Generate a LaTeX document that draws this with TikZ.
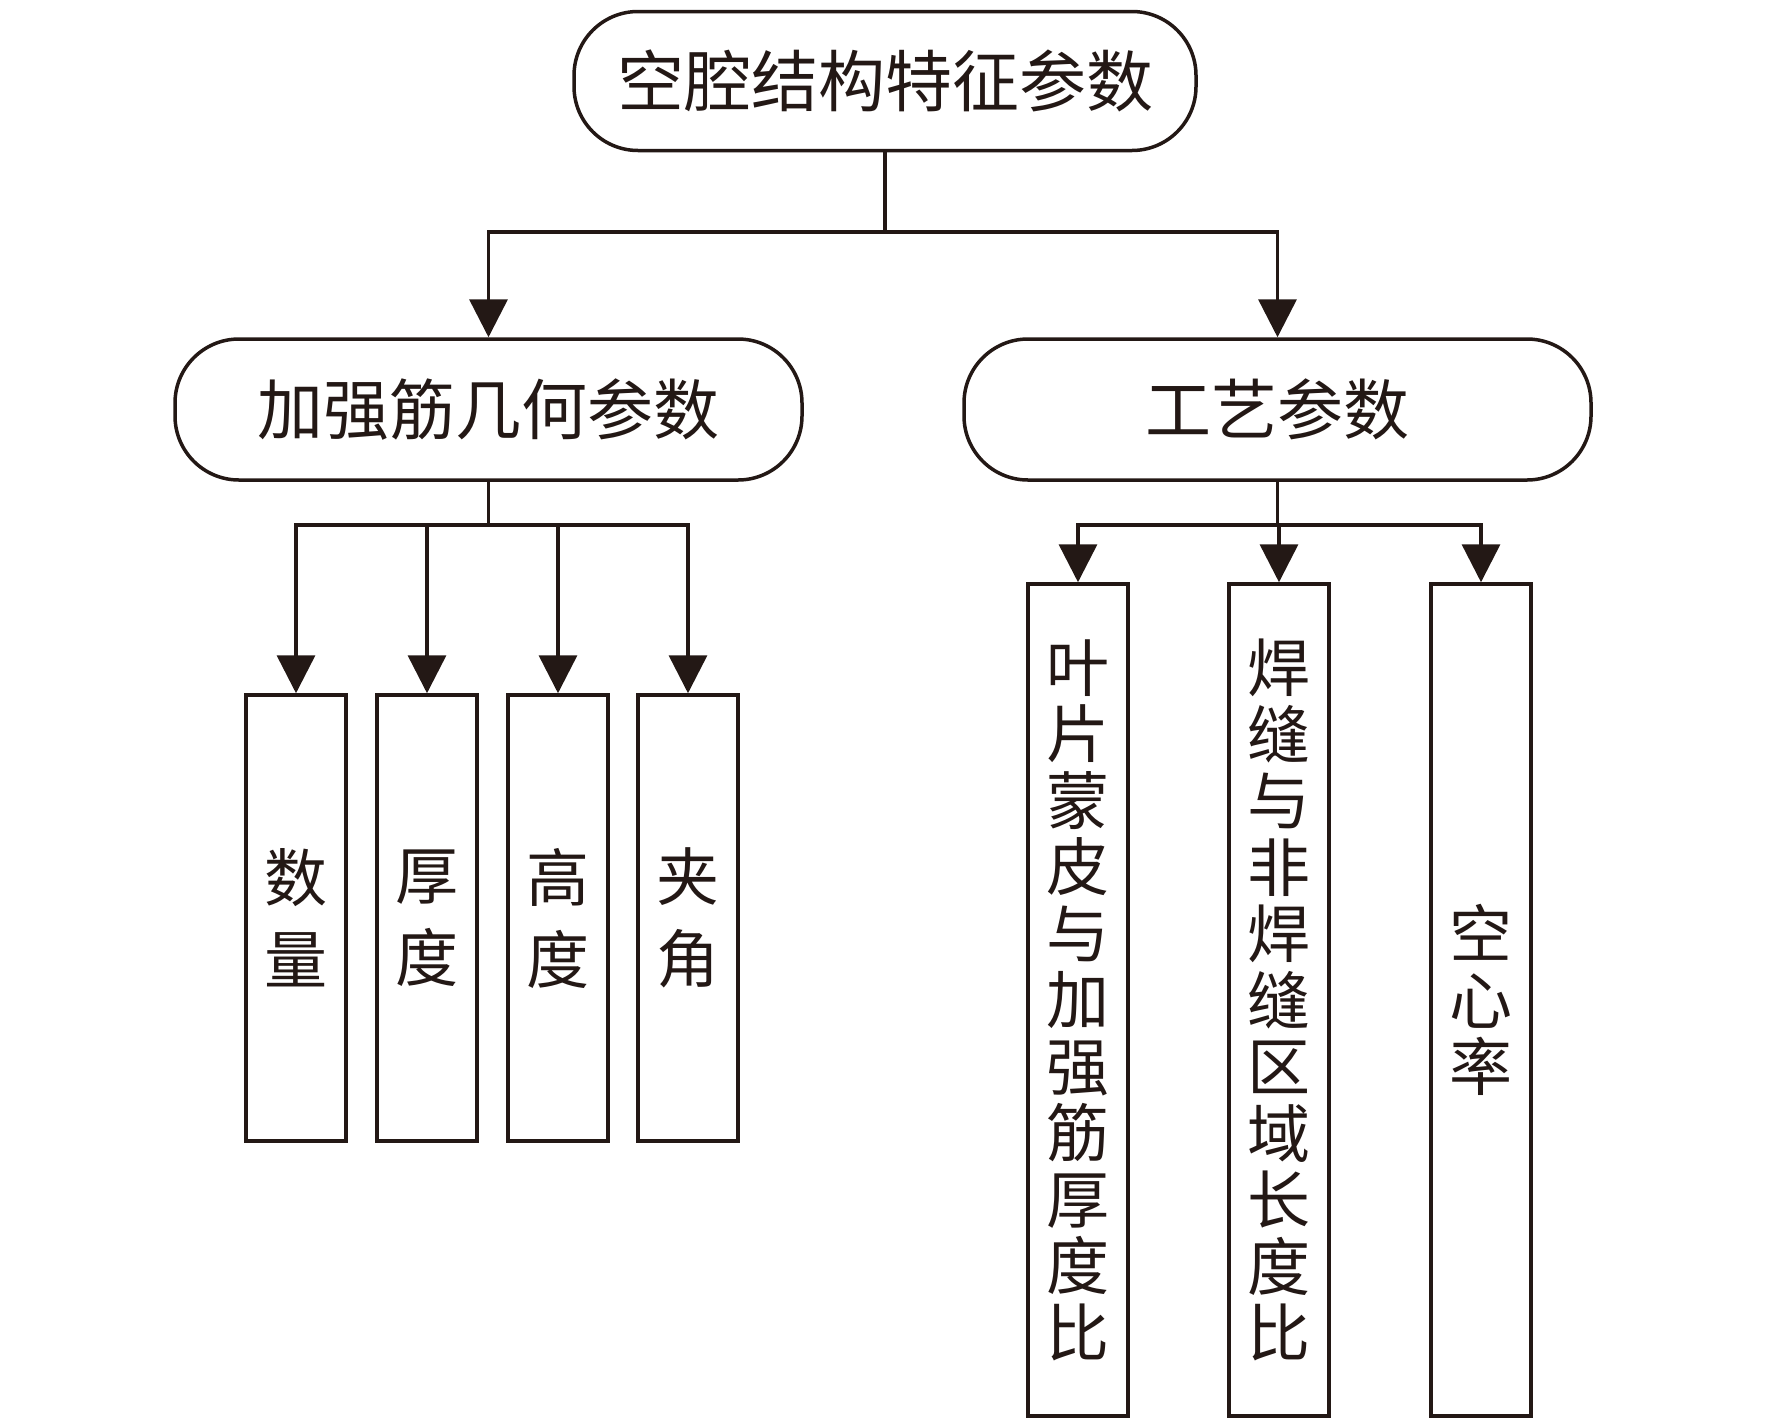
\documentclass[tikz,border=0pt]{standalone}
\usepackage{fontspec}
\newfontfamily\cjk{Noto Sans CJK SC}
\usetikzlibrary{arrows.meta,calc}
\definecolor{ink}{RGB}{35,24,21}
\begin{document}
\begin{tikzpicture}[x=1pt,y=-1pt,
  line width=3.5pt, draw=ink,
  every node/.style={text=ink},
  stadium/.style={draw, rounded corners=64pt, minimum width=624pt, minimum height=139pt, inner sep=0pt,
    font=\cjk\fontsize{67pt}{80pt}\selectfont},
  leafL/.style={draw, minimum width=100pt, minimum height=446pt, inner sep=0pt, align=center,
    font=\cjk\fontsize{63pt}{82pt}\selectfont},
  leafR/.style={draw, minimum width=100pt, minimum height=832pt, inner sep=0pt, align=center,
    font=\cjk\fontsize{63pt}{66.5pt}\selectfont},
  arr/.style={-{Triangle[length=38pt,width=38pt]}}
]
\useasboundingbox (0,0) rectangle (1772,1427);

\node[stadium, minimum width=622pt] (top) at (885,81) {空腔结构特征参数};
\node[stadium, minimum width=627pt, minimum height=141pt, font=\cjk\fontsize{66pt}{80pt}\selectfont] (geo) at (488.5,409.5) {加强筋几何参数};
\node[stadium, minimum width=627pt, minimum height=141pt, font=\cjk\fontsize{66pt}{80pt}\selectfont] (proc) at (1277.5,409.5) {工艺参数};

\node[leafL] (b1) at (296,918) {数\\量};
\node[leafL] (b2) at (427,918) {厚\\度};
\node[leafL] (b3) at (558,918) {高\\度};
\node[leafL] (b4) at (688,918) {夹\\角};

\node[leafR] (c1) at (1078,1000) {叶\\片\\蒙\\皮\\与\\加\\强\\筋\\厚\\度\\比};
\node[leafR] (c2) at (1279,1000) {焊\\缝\\与\\非\\焊\\缝\\区\\域\\长\\度\\比};
\node[leafR] (c3) at (1481,1000) {空\\心\\率};

\coordinate (j1) at (885,232);
\coordinate (j2) at (488.5,525);
\coordinate (j3) at (1277.5,525);

\draw (top.south) -- (j1);
\draw[arr] (j1) -| (geo.north);
\draw[arr] (j1) -| (proc.north);

\draw (geo.south) -- (j2);
\draw[arr] (j2) -| (b1.north);
\draw[arr] (j2) -| (b2.north);
\draw[arr] (j2) -| (b3.north);
\draw[arr] (j2) -| (b4.north);

\draw (proc.south) -- (j3);
\draw[arr] (j3) -| (c1.north);
\draw[arr] (j3) -| (c2.north);
\draw[arr] (j3) -| (c3.north);
\end{tikzpicture}
\end{document}
